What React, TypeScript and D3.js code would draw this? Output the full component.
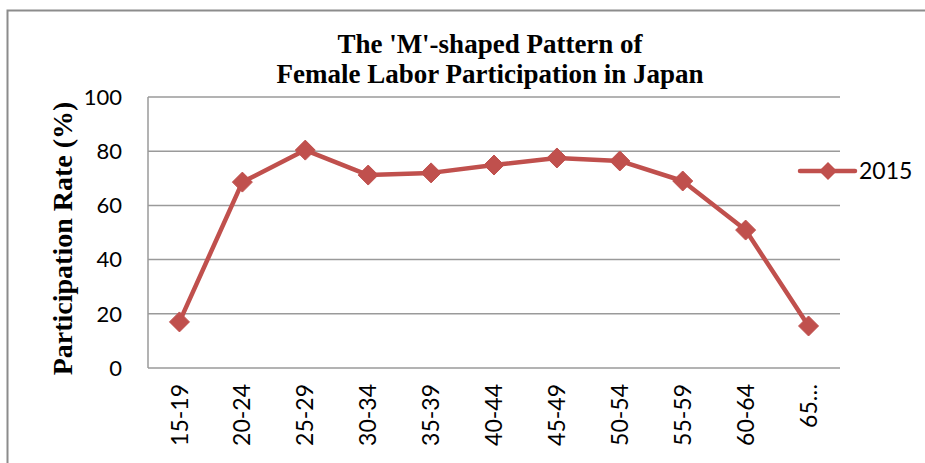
import React, { useEffect, useRef } from 'react';
import * as d3 from 'd3';

const AGE_GROUPS = ['15-19', '20-24', '25-29', '30-34', '35-39', '40-44', '45-49', '50-54', '55-59', '60-64', '65…'];
const RATE_2015 = [17.0, 68.6, 80.4, 71.2, 72.0, 74.9, 77.5, 76.4, 69.0, 50.9, 15.5];
const Y_TICKS = [0, 20, 40, 60, 80, 100];
const SERIES_NAME = '2015';

const LINE_COLOR = '#C0504D';
const GRID_COLOR = '#9a9a9a';

export default function App() {
  const svgRef = useRef<SVGSVGElement>(null);
  const width = 925;
  const height = 463;

  useEffect(() => {
    if (!svgRef.current) return;
    const svg = d3.select(svgRef.current);
    svg.selectAll('*').remove();

    const plot = { left: 148, right: 840, top: 97, bottom: 368 };

    // outer chart border (runs off the right/bottom of the picture)
    svg.append('rect')
      .attr('x', 7.5)
      .attr('y', 10.5)
      .attr('width', width + 20)
      .attr('height', height + 20)
      .attr('fill', 'none')
      .attr('stroke', '#8c8c8c')
      .attr('stroke-width', 2);

    const x = d3.scaleBand<string>()
      .domain(AGE_GROUPS)
      .range([plot.left, plot.right]);

    const y = d3.scaleLinear()
      .domain([0, 100])
      .range([plot.bottom, plot.top]);

    // gridlines
    svg.append('g')
      .selectAll('line')
      .data(Y_TICKS)
      .join('line')
      .attr('x1', plot.left)
      .attr('x2', plot.right)
      .attr('y1', (d) => y(d))
      .attr('y2', (d) => y(d))
      .attr('stroke', GRID_COLOR)
      .attr('stroke-width', 1.5);

    svg.append('line')
      .attr('x1', plot.left)
      .attr('x2', plot.left)
      .attr('y1', plot.top)
      .attr('y2', plot.bottom)
      .attr('stroke', GRID_COLOR)
      .attr('stroke-width', 1.5);

    // y tick labels
    svg.append('g')
      .selectAll('text')
      .data(Y_TICKS)
      .join('text')
      .attr('x', 122)
      .attr('y', (d) => y(d))
      .attr('dy', '0.35em')
      .attr('text-anchor', 'end')
      .attr('font-family', 'Lato, sans-serif')
      .attr('font-size', '22px')
      .attr('fill', '#000')
      .text((d) => d);

    // x tick labels, rotated
    svg.append('g')
      .selectAll('text')
      .data(AGE_GROUPS)
      .join('text')
      .attr('transform', (d) => `translate(${(x(d) as number) + x.bandwidth() / 2},${plot.bottom + 16}) rotate(-90)`)
      .attr('dy', '0.35em')
      .attr('text-anchor', 'end')
      .attr('font-family', 'Lato, sans-serif')
      .attr('font-size', '23px')
      .attr('fill', '#000')
      .text((d) => d);

    // y axis title
    svg.append('text')
      .attr('transform', `translate(72,${(plot.top + plot.bottom) / 2 + 6}) rotate(-90)`)
      .attr('text-anchor', 'middle')
      .attr('font-family', '"Liberation Serif", serif')
      .attr('font-weight', 'bold')
      .attr('font-size', '28px')
      .attr('fill', '#000')
      .text('Participation Rate (%)');

    // title
    const title = svg.append('text')
      .attr('text-anchor', 'middle')
      .attr('font-family', '"Liberation Serif", serif')
      .attr('font-weight', 'bold')
      .attr('font-size', '27px')
      .attr('fill', '#000');
    title.append('tspan').attr('x', 490).attr('y', 53).text("The 'M'-shaped Pattern of");
    title.append('tspan').attr('x', 490).attr('y', 83).text('Female Labor Participation in Japan');

    const cx = (i: number) => (x(AGE_GROUPS[i]) as number) + x.bandwidth() / 2;

    const line = d3.line<number>()
      .x((d, i) => cx(i))
      .y((d) => y(d));

    svg.append('path')
      .attr('d', line(RATE_2015))
      .attr('fill', 'none')
      .attr('stroke', LINE_COLOR)
      .attr('stroke-width', 4.5)
      .attr('stroke-linejoin', 'round');

    const diamond = (r: number) => `M0,${-r}L${r},0L0,${r}L${-r},0Z`;

    svg.append('g')
      .selectAll('path')
      .data(RATE_2015)
      .join('path')
      .attr('transform', (d, i) => `translate(${cx(i)},${y(d)})`)
      .attr('d', diamond(10))
      .attr('fill', LINE_COLOR)
      .attr('stroke', LINE_COLOR)
      .attr('stroke-width', 1);

    // legend
    const lg = svg.append('g').attr('transform', 'translate(800,171)');
    lg.append('line')
      .attr('x1', 0)
      .attr('x2', 55)
      .attr('stroke', LINE_COLOR)
      .attr('stroke-width', 4.5)
      .attr('stroke-linecap', 'round');
    lg.append('path')
      .attr('transform', 'translate(28,0)')
      .attr('d', diamond(9))
      .attr('fill', LINE_COLOR);
    lg.append('text')
      .attr('x', 59)
      .attr('dy', '0.35em')
      .attr('font-family', 'Lato, sans-serif')
      .attr('font-size', '23px')
      .attr('fill', '#000')
      .text(SERIES_NAME);
  }, []);

  return (
    <svg
      ref={svgRef}
      width={width}
      height={height}
      style={{ position: 'absolute', left: 0, top: 0, background: '#fff' }}
    />
  );
}
